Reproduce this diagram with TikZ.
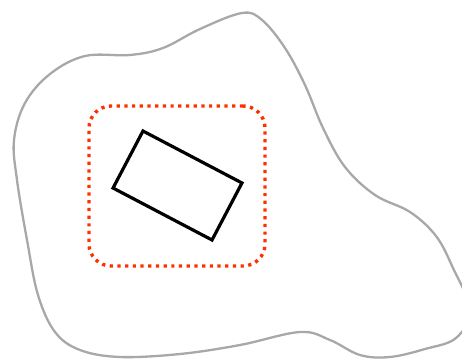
\documentclass[tikz,border=0pt]{standalone}
\usetikzlibrary{positioning}

\definecolor{blobgray}{RGB}{168,168,168}
\definecolor{zonered}{RGB}{255,48,0}

\begin{document}
\begin{tikzpicture}[
    x=1pt, y=-1pt,
    region/.style={draw=blobgray, line width=2.3pt},
    zone/.style={draw=zonered, line width=3.4pt, rounded corners=22pt, dash pattern=on 3.2pt off 4.5pt,
      minimum width=176pt, minimum height=160pt, inner sep=0pt},
    part/.style={draw=black, line width=3.2pt, line join=miter, minimum width=111.8pt, minimum height=64.4pt, inner sep=0pt}
  ]
    \useasboundingbox (0,0) rectangle (462,358);
    \clip (0,0) rectangle (462,358);

    % Outer irregular region, partly cut by the right border
    \draw[region] plot[smooth cycle, tension=0.6] coordinates {
      (242,13) (262,20) (285,48) (305,85) (323,128) (345,167) (375,195)
      (410,212) (436,236) (453,268) (470,310) (456,338) (425,349) (390,357)
      (360,355) (330,340) (300,332) (240,345) (180,354) (120,357) (80,350)
      (55,332) (38,295) (27,240) (17,180) (14,140) (25,103) (50,74) (85,56)
      (130,55) (163,48) (200,29)
    };

    % Dotted zone and the tilted part inside it
    \node[zone] (keepZone) at (177,186) {};
    \node[part, rotate=-27.7] (tiltedPart) at (177.5,185.5) {};
  \end{tikzpicture}
\end{document}
